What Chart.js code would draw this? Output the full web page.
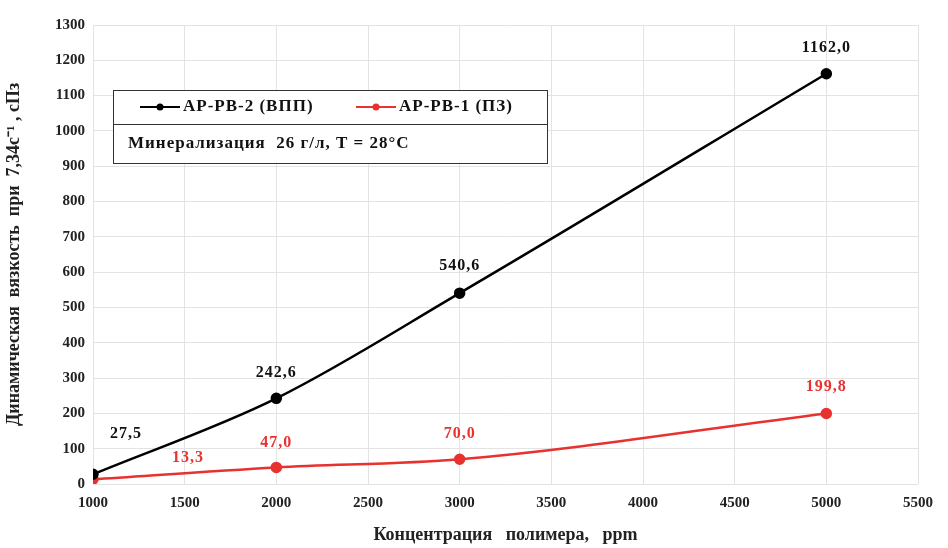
<!DOCTYPE html>
<html>
<head>
<meta charset="utf-8">
<script src="https://cdn.jsdelivr.net/npm/chart.js@4"></script>
<style>
  html, body { margin: 0; padding: 0; background: #fff; }
  #wrap { width: 948px; height: 548px; position: relative; }
</style>
</head>
<body>
<div id="wrap"><canvas id="chart"></canvas></div>
<script>
const concentrations = [1000, 2000, 3000, 5000];
const vppValues = [27.5, 242.6, 540.6, 1162.0];
const pzValues = [13.3, 47.0, 70.0, 199.8];
const vppLabels = ["27,5", "242,6", "540,6", "1162,0"];
const pzLabels = ["13,3", "47,0", "70,0", "199,8"];
const seriesNames = ["AP-PB-2 (ВПП)", "AP-PB-1 (ПЗ)"];
const noteText = "Минерализация  26 г/л, T = 28\u00B0C";

const FONT = "'Liberation Serif', 'Times New Roman', serif";

// label offsets relative to each point (dx, dy)
const labelOffsets = [
  [[33, -40], [0, -25], [0, -27], [0, -26]],
  [[95, -21], [0, -25], [0, -25], [0, -27]],
];
const allLabels = [vppLabels, pzLabels];

const labelPlugin = {
  id: "pointLabels",
  afterDatasetsDraw(chart) {
    const ctx = chart.ctx;
    ctx.save();
    ctx.font = "bold 16px " + FONT;
    ctx.letterSpacing = "1px";
    ctx.textAlign = "center";
    ctx.textBaseline = "middle";
    chart.data.datasets.forEach((ds, i) => {
      const meta = chart.getDatasetMeta(i);
      ctx.fillStyle = i === 0 ? "#111" : "#e8322f";
      meta.data.forEach((pt, j) => {
        const off = labelOffsets[i][j];
        ctx.fillText(allLabels[i][j], pt.x + off[0], pt.y + off[1]);
      });
    });
    ctx.restore();
  },
};

const boxPlugin = {
  id: "legendBox",
  afterDraw(chart) {
    const ctx = chart.ctx;
    ctx.save();
    const x = 113, y = 90, w = 434, h1 = 34, h2 = 39;
    ctx.fillStyle = "#fff";
    ctx.fillRect(x, y, w, h1 + h2);
    ctx.strokeStyle = "#333";
    ctx.lineWidth = 1;
    ctx.strokeRect(x + 0.5, y + 0.5, w, h1);
    ctx.strokeRect(x + 0.5, y + h1 + 0.5, w, h2);

    ctx.font = "bold 17px " + FONT;
    ctx.letterSpacing = "1px";
    ctx.textBaseline = "middle";
    const cy = y + h1 / 2;
    const items = [
      { sx: 140, color: "#000", text: seriesNames[0] },
      { sx: 356, color: "#e8322f", text: seriesNames[1] },
    ];
    items.forEach((it) => {
      ctx.strokeStyle = it.color;
      ctx.lineWidth = 2;
      ctx.beginPath();
      ctx.moveTo(it.sx, cy);
      ctx.lineTo(it.sx + 40, cy);
      ctx.stroke();
      ctx.fillStyle = it.color;
      ctx.beginPath();
      ctx.arc(it.sx + 20, cy, 3.5, 0, Math.PI * 2);
      ctx.fill();
      ctx.fillStyle = "#111";
      ctx.textAlign = "left";
      ctx.fillText(it.text, it.sx + 43, cy);
    });
    ctx.fillStyle = "#111";
    ctx.fillText(noteText, 128, y + h1 + h2 / 2);
    ctx.restore();
  },
};

new Chart(document.getElementById("chart"), {
  type: "line",
  data: {
    datasets: [
      {
        label: seriesNames[0],
        data: concentrations.map((c, i) => ({ x: c, y: vppValues[i] })),
        borderColor: "#000",
        backgroundColor: "#000",
        borderWidth: 2.5,
        pointRadius: 4.5,
        pointHoverRadius: 4.5,
        cubicInterpolationMode: "monotone",
      },
      {
        label: seriesNames[1],
        data: concentrations.map((c, i) => ({ x: c, y: pzValues[i] })),
        borderColor: "#e8322f",
        backgroundColor: "#e8322f",
        borderWidth: 2.5,
        pointRadius: 4.5,
        pointHoverRadius: 4.5,
        cubicInterpolationMode: "monotone",
      },
    ],
  },
  options: {
    responsive: true,
    maintainAspectRatio: false,
    animation: false,
    layout: { padding: { top: 25, right: 30, left: 0, bottom: 0 } },
    plugins: {
      legend: { display: false },
      tooltip: { enabled: false },
    },
    scales: {
      x: {
        type: "linear",
        min: 1000,
        max: 5500,
        ticks: {
          stepSize: 500,
          color: "#222",
          font: { family: FONT, size: 15, weight: "bold" },
          padding: 10,
          callback: (v) => String(v),
        },
        grid: { color: "#e3e3e3", drawTicks: false },
        border: { display: false },
        title: {
          display: true,
          text: "Концентрация   полимера,   ppm",
          color: "#222",
          font: { family: FONT, size: 18, weight: "bold" },
          padding: { top: 4, bottom: 2 },
        },
        afterFit(scale) { scale.height = 64; },
      },
      y: {
        min: 0,
        max: 1300,
        ticks: {
          stepSize: 100,
          color: "#222",
          font: { family: FONT, size: 15, weight: "bold" },
          padding: 8,
          callback: (v) => String(v),
        },
        grid: { color: "#e3e3e3", drawTicks: false },
        border: { display: false },
        title: {
          display: true,
          text: "Динамическая  вязкость  при  7,34с\u207B\u00B9 , сПз",
          color: "#222",
          font: { family: FONT, size: 18, weight: "bold" },
          padding: { bottom: 4 },
        },
        afterFit(scale) { scale.width = 93; },
      },
    },
  },
  plugins: [labelPlugin, boxPlugin],
});
</script>
</body>
</html>
